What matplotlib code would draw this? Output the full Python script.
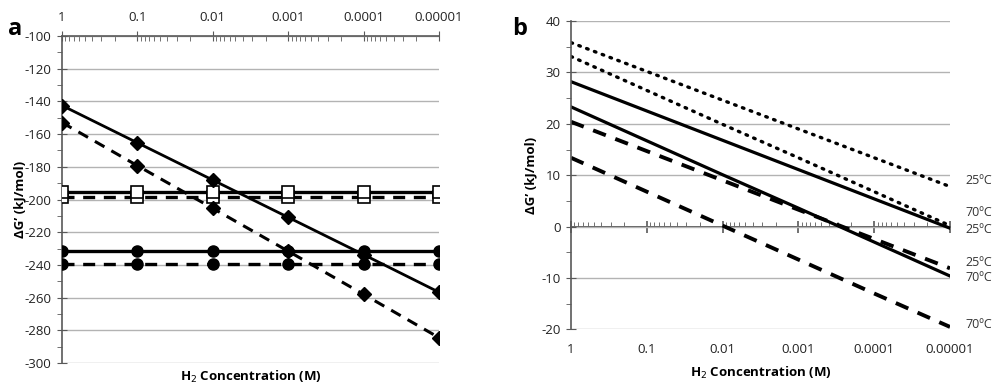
import numpy as np
import matplotlib.pyplot as plt
from matplotlib.ticker import LogLocator, NullFormatter, MultipleLocator
import matplotlib.transforms as mtransforms

plt.rcParams['font.family'] = ['Open Sans', 'DejaVu Sans']
plt.rcParams['axes.unicode_minus'] = False

# H2 concentration (M)
conc = [1, 0.1, 0.01, 0.001, 0.0001, 0.00001]
conc_labels = ['1', '0.1', '0.01', '0.001', '0.0001', '0.00001']

# panel a: dG' (kJ/mol)
a_diamond_25 = [-142.5, -165.3, -188.1, -210.9, -233.7, -256.7]
a_diamond_70 = [-152.9, -179.3, -205.4, -231.6, -258.0, -284.5]
a_square_25 = [-195.3, -195.3, -195.3, -195.3, -195.3, -195.3]
a_square_70 = [-198.2, -198.2, -198.2, -198.2, -198.2, -198.2]
a_circle_25 = [-231.6, -231.6, -231.6, -231.6, -231.6, -231.6]
a_circle_70 = [-239.7, -239.7, -239.7, -239.7, -239.7, -239.7]

# panel b: dG' (kJ/mol)
b_dot_25 = [35.8, 30.2, 24.6, 19.0, 13.4, 7.8]
b_dot_70 = [33.1, 26.5, 19.9, 13.4, 6.8, 0.2]
b_solid_25 = [28.2, 22.5, 16.8, 11.1, 5.4, -0.3]
b_solid_70 = [23.3, 16.7, 10.1, 3.6, -3.0, -9.6]
b_dash_25 = [20.4, 14.7, 9.0, 3.3, -2.4, -8.1]
b_dash_70 = [13.4, 6.8, 0.2, -6.4, -13.0, -19.5]
b_end_labels = ['25ºC', '70ºC', '25ºC', '25ºC', '70ºC', '70ºC']
b_label_y = [9.0, 2.7, -0.6, -7.0, -9.9, -19.0]

spine_c = '#595959'
grid_c = '#b3b3b3'
dash = (0, (3.6, 2.6))
tick_fs = 9.5

fig = plt.figure(figsize=(10, 3.89), dpi=100)


def style_log_x(axis):
    axis.set_major_locator(LogLocator(base=10, numticks=10))
    axis.set_minor_locator(LogLocator(base=10, subs=np.arange(2, 10), numticks=20))
    axis.set_minor_formatter(NullFormatter())


# ---------- panel a ----------
ax = fig.add_axes([0.062, 0.0668, 0.377, 0.8406])
ax.set_xscale('log')
ax.set_xlim(1, 1e-5)
ax.set_ylim(-300, -100)

ax.plot(conc, a_diamond_25, '-', color='black', lw=2.0, marker='D', ms=7.5, zorder=5)
ax.plot(conc, a_diamond_70, color='black', lw=2.2, ls=dash, marker='D', ms=7.5, zorder=5)
ax.plot(conc, a_square_25, '-', color='black', lw=2.4, marker='s', ms=8,
        mfc='white', mec='black', mew=1.2, zorder=4)
ax.plot(conc, a_square_70, color='black', lw=2.4, ls=dash, marker='s', ms=8,
        mfc='white', mec='black', mew=1.2, zorder=3)
ax.plot(conc, a_circle_25, '-', color='black', lw=2.4, marker='o', ms=8, zorder=5)
ax.plot(conc, a_circle_70, color='black', lw=2.4, ls=dash, marker='o', ms=8, zorder=5)

ax.yaxis.set_major_locator(MultipleLocator(20))
ax.yaxis.set_minor_locator(MultipleLocator(10))
ax.grid(axis='y', which='major', color=grid_c, lw=1)
ax.set_axisbelow(True)
ax.xaxis.tick_top()
style_log_x(ax.xaxis)
ax.set_xticks(conc)
ax.set_xticklabels(conc_labels)
for s in ['right', 'bottom']:
    ax.spines[s].set_visible(False)
for s in ['left', 'top']:
    ax.spines[s].set_color(spine_c)
    ax.spines[s].set_linewidth(1.2)
ax.tick_params(axis='x', which='major', direction='inout', length=7, color=spine_c,
               labelsize=tick_fs, pad=5, labelcolor='#222222')
ax.tick_params(axis='x', which='minor', direction='in', length=3.5, color=spine_c)
ax.tick_params(axis='y', which='major', direction='inout', length=7, color=spine_c,
               labelsize=tick_fs, pad=4, labelcolor='#222222')
ax.tick_params(axis='y', which='minor', direction='out', length=3.5, color=spine_c)
ax.set_ylabel('ΔG’ (kJ/mol)', fontsize=9.5, fontweight='bold', labelpad=-1)
ax.set_xlabel('H$_2$ Concentration (M)', fontsize=9.5, fontweight='bold', labelpad=4)
ax.xaxis.set_label_position('bottom')
fig.text(0.008, 0.91, 'a', fontsize=17, fontweight='bold')

# ---------- panel b ----------
bx = fig.add_axes([0.571, 0.153, 0.379, 0.793])
bx.set_xscale('log')
bx.set_xlim(1, 1e-5)
bx.set_ylim(-20, 40)

bx.plot(conc, b_dot_25, color='black', lw=2.4, ls=(0, (0.5, 2.0)), dash_capstyle='round')
bx.plot(conc, b_dot_70, color='black', lw=2.4, ls=(0, (0.5, 2.0)), dash_capstyle='round')
bx.plot(conc, b_solid_25, color='black', lw=2.3)
bx.plot(conc, b_solid_70, color='black', lw=2.3)
bx.plot(conc, b_dash_25, color='black', lw=2.8, ls=(0, (3.5, 2.6)))
bx.plot(conc, b_dash_70, color='black', lw=2.8, ls=(0, (3.5, 2.6)))

bx.yaxis.set_major_locator(MultipleLocator(10))
bx.yaxis.set_minor_locator(MultipleLocator(5))
bx.grid(axis='y', which='major', color=grid_c, lw=1)
bx.set_axisbelow(True)
for s in ['right', 'top', 'bottom']:
    bx.spines[s].set_visible(False)
bx.spines['left'].set_color(spine_c)
bx.spines['left'].set_linewidth(1.2)
bx.set_xticks(conc)
bx.set_xticklabels(conc_labels)
bx.xaxis.set_minor_locator(plt.NullLocator())
bx.tick_params(axis='x', which='major', length=0, labelsize=tick_fs, pad=10,
               labelcolor='#222222')
bx.tick_params(axis='y', which='major', direction='inout', length=7, color=spine_c,
               labelsize=tick_fs, pad=4, labelcolor='#222222')
bx.tick_params(axis='y', which='minor', direction='out', length=3.5, color=spine_c)

# zero axis with log ticks
zx = bx.secondary_xaxis(1 / 3)
style_log_x(zx.xaxis)
zx.set_xticks(conc)
zx.set_xticklabels([])
zx.spines['bottom'].set_color(spine_c)
zx.spines['bottom'].set_linewidth(1.4)
zx.tick_params(axis='x', which='major', direction='inout', length=8, width=1.2,
               color=spine_c)
zx.tick_params(axis='x', which='minor', direction='in', length=3.5, color=spine_c)

bx.set_ylabel('ΔG’ (kJ/mol)', fontsize=9.5, fontweight='bold', labelpad=3)
bx.set_xlabel('H$_2$ Concentration (M)', fontsize=9.5, fontweight='bold', labelpad=6)

trans = mtransforms.blended_transform_factory(bx.transAxes, bx.transData)
for lab, yv in zip(b_end_labels, b_label_y):
    bx.text(1.04, yv, lab, transform=trans, fontsize=9, va='center', ha='left',
            color='#333333')

fig.text(0.512, 0.91, 'b', fontsize=17, fontweight='bold')

fig.savefig('out.png', dpi=100)
